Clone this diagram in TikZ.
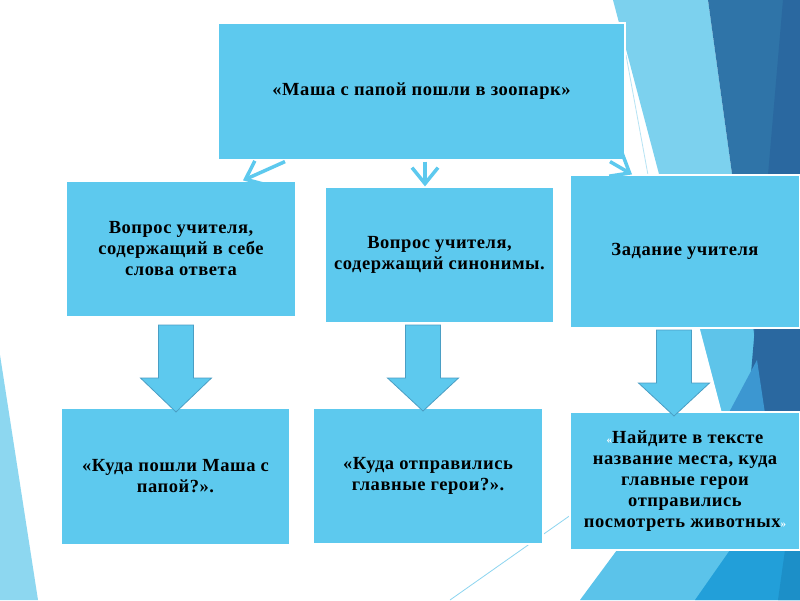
\documentclass[tikz,border=0pt]{standalone}
\usepackage{fontspec}
\setmainfont{Liberation Serif}[LetterSpace=3]
\usetikzlibrary{arrows.meta,calc}
\definecolor{boxblue}{HTML}{5DC9EE}
\definecolor{arrowedge}{HTML}{4A9EC4}
\definecolor{bgleft}{HTML}{8DD7F0}
\definecolor{bandlight}{HTML}{7CD1EE}
\definecolor{bandmid}{HTML}{5EC4EA}
\definecolor{darkone}{HTML}{2F74A8}
\definecolor{darktwo}{HTML}{2A68A0}
\definecolor{medtri}{HTML}{3C97D1}
\definecolor{botone}{HTML}{5BC3EA}
\definecolor{bottwo}{HTML}{229FD9}
\definecolor{botthree}{HTML}{1C8FC8}
\definecolor{thinline}{HTML}{8DD5F0}
\definecolor{thinlight}{HTML}{B6E3F4}
\begin{document}
\begin{tikzpicture}[x=1pt,y=-1pt,
  box/.style={draw=white, line width=1.2pt, fill=boxblue, inner sep=0pt, align=center,
    font=\fontsize{18.5}{21}\selectfont\bfseries},
  conn/.style={draw=boxblue, line width=3.5pt, -{Straight Barb[length=16pt,width=26pt]}},
  blockarrow/.style={fill=boxblue, draw=arrowedge, line width=0.8pt, line join=miter}]
\useasboundingbox[fill=white] (0,0) rectangle (800,600);
% background shapes
\fill[bgleft] (0,355) -- (38,600) -- (0,600) -- cycle;
\fill[bandlight] (613,0) -- (708,0) -- (766,420) -- (724,420) -- cycle;
\fill[bandmid] (700,328) -- (754,328) -- (766,420) -- (724,420) -- cycle;
\fill[darkone] (708,0) -- (800,0) -- (800,420) -- (766,420) -- cycle;
\fill[darktwo] (783,0) -- (800,0) -- (800,420) -- (747,420) -- cycle;
\fill[medtri] (757,360) -- (766,420) -- (725,420) -- cycle;
\fill[botone] (617,550) -- (800,550) -- (800,600) -- (580,600) -- cycle;
\fill[bottwo] (730,550) -- (800,550) -- (800,600) -- (695,600) -- cycle;
\fill[botthree] (785,550) -- (800,550) -- (800,600) -- (778,600) -- cycle;
\draw[thinline, line width=0.8pt] (450,600) -- (575,512);
\draw[thinlight, line width=0.8pt] (626,55) -- (648,175);
% boxes
\node[box, minimum width=407pt, minimum height=137pt] (top) at (421.5,91.5) {«Маша с папой пошли в зоопарк»};
\node[box, minimum width=230pt, minimum height=136pt] (b1) at (181,249) {Вопрос учителя,\\ содержащий в себе\\ слова ответа};
\node[box, minimum width=229pt, minimum height=136pt] (b2) at (439.5,255) {Вопрос учителя,\\ содержащий синонимы.};
\node[box, minimum width=230pt, minimum height=153pt] (b3) at (685,251.5) {Задание учителя};
\node[box, minimum width=229pt, minimum height=137pt] (b4) at (175.5,476.5) {«Куда пошли Маша с\\ папой?».};
\node[box, minimum width=230pt, minimum height=136pt] (b5) at (428,476) {«Куда отправились\\ главные герои?».};
\node[box, minimum width=230pt, minimum height=138pt] (b6) at (685,481) {{\fontsize{11}{11}\selectfont\color{white}«}Найдите в тексте\\ название места, куда\\ главные герои\\ отправились\\ посмотреть животных{\fontsize{11}{11}\selectfont\color{white}»}};
% connectors from the top box
\draw[conn] (top.south -| 285,0) ++(0,1) -- (b1.north -| 243,0);
\draw[conn] (top.south -| 425,0) ++(0,1) -- (b2.north -| 425,0);
\draw[conn] (top.south -| 610,0) ++(0,1) -- (b3.north -| 632,0);
% block arrows
\foreach \cx/\ty/\hy/\tp in {176/325/378/412, 423/325/378/411, 674/330/383/416}
  \draw[blockarrow] (\cx-17.5,\ty) -- (\cx+17.5,\ty) -- (\cx+17.5,\hy) -- (\cx+35.5,\hy)
     -- (\cx,\tp) -- (\cx-35.5,\hy) -- (\cx-17.5,\hy) -- cycle;
\end{tikzpicture}
\end{document}
